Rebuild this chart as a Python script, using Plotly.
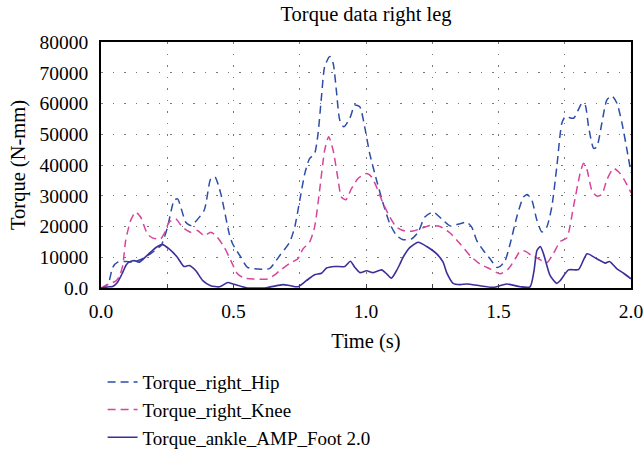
import plotly.graph_objects as go

# ---- data ----
hip_t = [0.000, 0.012, 0.031, 0.044, 0.063, 0.095, 0.119, 0.157, 0.195, 0.227, 0.251, 0.276, 0.289, 0.320,
         0.339, 0.389, 0.414, 0.430, 0.452, 0.484, 0.497, 0.528, 0.553, 0.591, 0.636, 0.674, 0.712, 0.731,
         0.750, 0.769, 0.787, 0.806, 0.819, 0.832, 0.844, 0.863, 0.876, 0.888, 0.901, 0.916, 0.939, 0.958,
         0.977, 0.995, 1.014, 1.040, 1.065, 1.090, 1.115, 1.140, 1.172, 1.197, 1.222, 1.254, 1.291, 1.317,
         1.355, 1.380, 1.399, 1.418, 1.443, 1.468, 1.493, 1.506, 1.525, 1.544, 1.569, 1.594, 1.609, 1.626,
         1.645, 1.664, 1.682, 1.701, 1.720, 1.739, 1.752, 1.783, 1.815, 1.827, 1.840, 1.859, 1.871, 1.890,
         1.909, 1.928, 1.947, 1.966, 1.985, 2.000]
hip_v = [0, 0, 2400, 6700, 8400, 8600, 8400, 9500, 11700, 13900, 19800, 28500, 29000, 21400,
         20300, 25200, 35500, 36100, 30700, 17600, 14300, 10000, 6700, 6200, 6300, 10500, 14900, 19800,
         28500, 37200, 42100, 43700, 50200, 62200, 72000, 75300, 73100, 64400, 54600, 52400, 55200, 59500,
         58900, 52400, 43700, 35000, 27400, 20900, 17100, 15700, 16000, 18200, 23100, 24700, 22000, 20200,
         20900, 21400, 19800, 15400, 12200, 9500, 6700, 7000, 8900, 14400, 23100, 29600, 30400, 28500,
         22000, 18200, 19800, 26300, 39400, 53600, 55700, 55200, 60100, 59500, 52400, 45400, 45900, 53600,
         61200, 62500, 60100, 53600, 44800, 37500]

knee_t = [0.000, 0.030, 0.057, 0.070, 0.082, 0.093, 0.112, 0.131, 0.150, 0.175, 0.194, 0.225, 0.238, 0.257,
          0.282, 0.307, 0.339, 0.364, 0.389, 0.414, 0.434, 0.465, 0.490, 0.515, 0.540, 0.578, 0.629, 0.654,
          0.674, 0.712, 0.743, 0.762, 0.787, 0.806, 0.825, 0.844, 0.859, 0.876, 0.895, 0.907, 0.924, 0.945,
          0.970, 1.002, 1.021, 1.040, 1.065, 1.090, 1.115, 1.147, 1.178, 1.203, 1.241, 1.279, 1.317, 1.355,
          1.393, 1.430, 1.468, 1.506, 1.537, 1.563, 1.582, 1.600, 1.626, 1.651, 1.682, 1.707, 1.733, 1.758,
          1.783, 1.808, 1.821, 1.834, 1.853, 1.871, 1.890, 1.909, 1.934, 1.953, 1.972, 2.000]
knee_v = [0, 1300, 2300, 4000, 7300, 15400, 22000, 24700, 23000, 17600, 16300, 16000, 17600, 21400,
          22500, 19800, 18100, 18700, 17000, 18100, 17000, 13300, 8900, 4600, 3200, 2900, 2900, 4200,
          5600, 8000, 9500, 12700, 14900, 19800, 31800, 44800, 49200, 44800, 35000, 29600, 28700, 32300,
          35600, 37200, 36100, 32800, 27400, 23100, 19800, 18500, 18500, 19200, 20300, 20000, 17900, 14400,
          10500, 7800, 6200, 4600, 6200, 9500, 12000, 12000, 10500, 9500, 8200, 11200, 15100, 16300,
          26500, 37300, 40600, 38500, 31500, 29900, 30400, 35200, 38900, 37800, 35600, 31000]

ankle_t = [0.000, 0.030, 0.044, 0.062, 0.082, 0.095, 0.106, 0.125, 0.144, 0.169, 0.194, 0.213, 0.232, 0.257,
           0.288, 0.313, 0.333, 0.358, 0.383, 0.414, 0.447, 0.479, 0.498, 0.548, 0.624, 0.687, 0.712, 0.743,
           0.775, 0.806, 0.832, 0.851, 0.882, 0.920, 0.941, 0.958, 0.977, 1.002, 1.027, 1.059, 1.078, 1.096,
           1.115, 1.128, 1.140, 1.166, 1.197, 1.229, 1.267, 1.291, 1.304, 1.329, 1.355, 1.380, 1.430, 1.481,
           1.531, 1.582, 1.619, 1.634, 1.645, 1.658, 1.670, 1.695, 1.720, 1.733, 1.764, 1.802, 1.834, 1.871,
           1.903, 1.919, 1.947, 1.972, 2.000]
ankle_v = [0, 400, 500, 1800, 5100, 7500, 8400, 8900, 8400, 10200, 12200, 13500, 14100, 12700,
           10000, 7000, 7300, 5600, 2500, 750, 400, 1800, 1300, 100, 100, 1100, 800, 400,
           2400, 4300, 4800, 6500, 7000, 7000, 8700, 6700, 5000, 5600, 5000, 5900, 4600, 3200,
           5600, 7800, 10000, 13200, 14900, 13500, 11100, 8400, 5100, 1500, 1100, 1300, 750, 200,
           1300, 400, 400, 5600, 12200, 13500, 11100, 4000, 1500, 2400, 5900, 6000, 11100, 9500,
           8100, 8600, 6200, 4800, 3000]

x_tickvals = [0, 0.5, 1.0, 1.5, 2.0]
x_ticktext = ["0.0", "0.5", "1.0", "1.5", "2.0"]
y_tickvals = [0, 10000, 20000, 30000, 40000, 50000, 60000, 70000, 80000]
y_ticktext = ["0.0", "10000", "20000", "30000", "40000", "50000", "60000", "70000", "80000"]

FONT = "Liberation Serif"

fig = go.Figure()
fig.add_trace(go.Scatter(x=hip_t, y=hip_v, mode="lines", name="Torque_right_Hip",
                         line=dict(color="#2C4DA8", width=1.5, dash="8px,5px", shape="spline", smoothing=0.6)))
fig.add_trace(go.Scatter(x=knee_t, y=knee_v, mode="lines", name="Torque_right_Knee",
                         line=dict(color="#D6449B", width=1.5, dash="8px,5px", shape="spline", smoothing=0.6)))
fig.add_trace(go.Scatter(x=ankle_t, y=ankle_v, mode="lines", name="Torque_ankle_AMP_Foot 2.0",
                         line=dict(color="#3D2F98", width=1.6, shape="spline", smoothing=0.6)))

grid_style = dict(showgrid=True, gridcolor="#7a7a7a", gridwidth=1.3, griddash="1.5px,10px")

fig.update_layout(
    width=643, height=450,
    margin=dict(l=101, r=12, t=42, b=162, autoexpand=False),
    paper_bgcolor="white", plot_bgcolor="white",
    font=dict(family=FONT, size=19.5, color="black"),
    title=dict(text="Torque data right leg", x=0.5, xref="paper", y=1 - 14 / 450, yref="container",
               yanchor="middle", font=dict(family=FONT, size=20.5, color="black")),
    showlegend=True,
    legend=dict(x=0.003, y=-0.305, xanchor="left", yanchor="top", orientation="v",
                font=dict(family=FONT, size=19), bgcolor="rgba(0,0,0,0)", tracegroupgap=0,
                itemwidth=30),
    xaxis=dict(range=[0, 2.0], tickvals=x_tickvals, ticktext=x_ticktext,
               ticks="inside", ticklen=4, tickcolor="#444", tickwidth=1,
               ticklabelstandoff=5, ticklabeloverflow="allow",
               showline=True, mirror=True, linecolor="black", linewidth=1.5, zeroline=False,
               automargin=False,
               title=dict(text="Time (s)", standoff=12, font=dict(family=FONT, size=20.5)),
               minor=dict(dtick=0.25, tick0=0, ticks="inside", ticklen=4, tickcolor="#444",
                          showgrid=True, gridcolor="#7a7a7a", gridwidth=1.3, griddash="1.5px,10px"),
               **grid_style),
    yaxis=dict(range=[0, 80000], tickvals=y_tickvals, ticktext=y_ticktext, ticks="",
               showline=True, mirror=True, linecolor="black", linewidth=1.5, zeroline=False,
               ticklabelstandoff=7, automargin=False, ticklabeloverflow="allow",
               title=dict(text="Torque (N-mm)", standoff=8, font=dict(family=FONT, size=20.5)),
               **grid_style),
)

fig.write_html("out.html", config={"displayModeBar": False},
               post_script="document.body.style.margin='0px';")
